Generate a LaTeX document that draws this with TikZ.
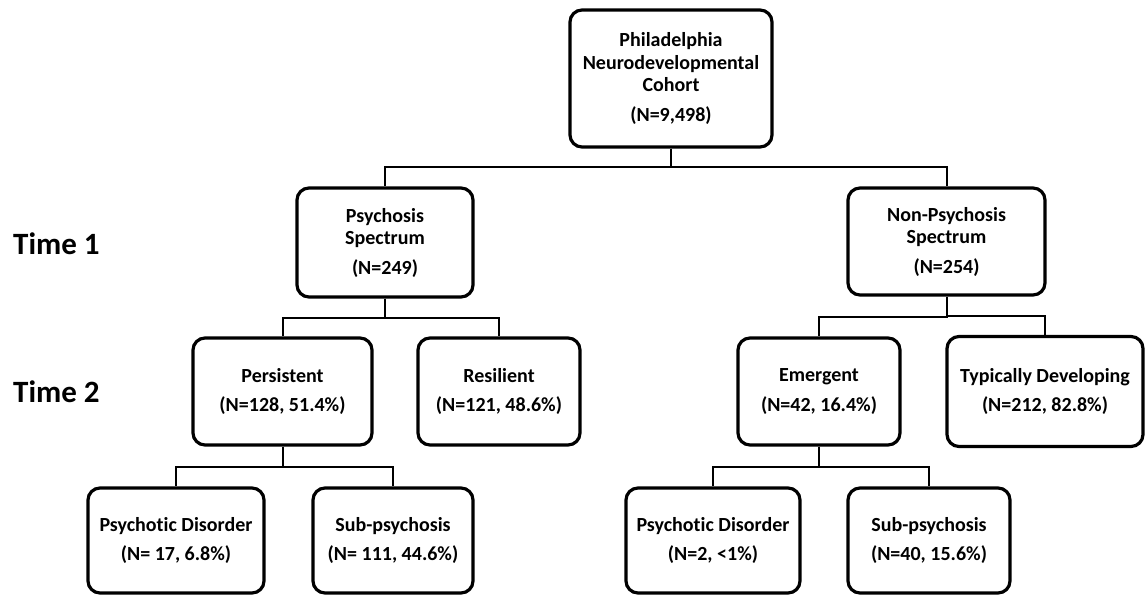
\documentclass[tikz,border=0pt]{standalone}
\usepackage{fontspec}
\setmainfont{Carlito}[Ligatures=NoCommon]
\usetikzlibrary{positioning,calc}

\begin{document}
\begin{tikzpicture}[x=1pt, y=-1pt]
\tikzstyle{block} = [rectangle, draw, line width=3.2pt, rounded corners=12pt,
    align=center, inner sep=0pt, minimum height=107pt,
    font=\fontsize{20}{22.5}\selectfont\bfseries]
\tikzstyle{line} = [draw, line width=2pt]
\tikzstyle{time} = [anchor=base west, inner sep=0pt,
    font=\fontsize{31}{36}\selectfont\bfseries]

    \useasboundingbox (0,0) rectangle (1147,596);
    % Place nodes
    \node [block, minimum width=202pt, minimum height=137pt] (cohort) at (671,78.5) {Philadelphia\\Neurodevelopmental\\Cohort\\[7pt](N=9,498)};
    \node [block, minimum width=176pt, minimum height=109pt] (psy) at (385,242.5) {Psychosis\\Spectrum\\[7pt](N=249)};
    \node [block, minimum width=197pt] (nonpsy) at (946.5,241.5) {Non-Psychosis\\Spectrum\\[7pt](N=254)};
    \node [block, minimum width=179pt] (persist) at (282.5,391.5) {Persistent\\[7pt](N=128, 51.4\%)};
    \node [block, minimum width=162pt, right of=persist, node distance=216.5pt] (resil) {Resilient\\[7pt](N=121, 48.6\%)};
    \node [block, minimum width=162pt] (emerg) at (819,391.5) {Emergent\\[7pt](N=42, 16.4\%)};
    \node [block, minimum width=196pt, minimum height=110pt, right of=emerg, node distance=226pt] (typdev) {Typically Developing\\[7pt](N=212, 82.8\%)};
    \node [block, minimum width=176pt, minimum height=105pt] (pdA) at (176,540.5) {Psychotic Disorder\\[7pt](N= 17, 6.8\%)};
    \node [block, minimum width=160pt, minimum height=105pt, right of=pdA, node distance=217pt] (subA) {Sub-psychosis\\[7pt](N= 111, 44.6\%)};
    \node [block, minimum width=174pt, minimum height=105pt] (pdB) at (713,540.5) {Psychotic Disorder\\[7pt](N=2, <1\%)};
    \node [block, minimum width=162pt, minimum height=105pt, right of=pdB, node distance=216pt] (subB) {Sub-psychosis\\[7pt](N=40, 15.6\%)};
    \node [time] (time1) at (13,254) {Time 1};
    \node [time] (time2) at (13,402) {Time 2};
    % Draw edges
    \path [line] (cohort.south) |- ($(cohort.south)!.5!(psy.north)$) -| (psy.north);
    \path [line] (cohort.south) |- ($(cohort.south)!.5!(nonpsy.north)$) -| (nonpsy.north);
    \path [line] (psy.south) |- ($(psy.south)!.5!(persist.north)$) -| (persist.north);
    \path [line] (psy.south) |- ($(psy.south)!.5!(resil.north)$) -| (resil.north);
    \path [line] (nonpsy.south) |- ($(nonpsy.south)!.5!(emerg.north)$) -| (emerg.north);
    \path [line] (nonpsy.south) |- ($(nonpsy.south)!.5!(typdev.north)$) -| (typdev.north);
    \path [line] (persist.south) |- ($(persist.south)!.5!(pdA.north)$) -| (pdA.north);
    \path [line] (persist.south) |- ($(persist.south)!.5!(subA.north)$) -| (subA.north);
    \path [line] (emerg.south) |- ($(emerg.south)!.5!(pdB.north)$) -| (pdB.north);
    \path [line] (emerg.south) |- ($(emerg.south)!.5!(subB.north)$) -| (subB.north);
\end{tikzpicture}
\end{document}
